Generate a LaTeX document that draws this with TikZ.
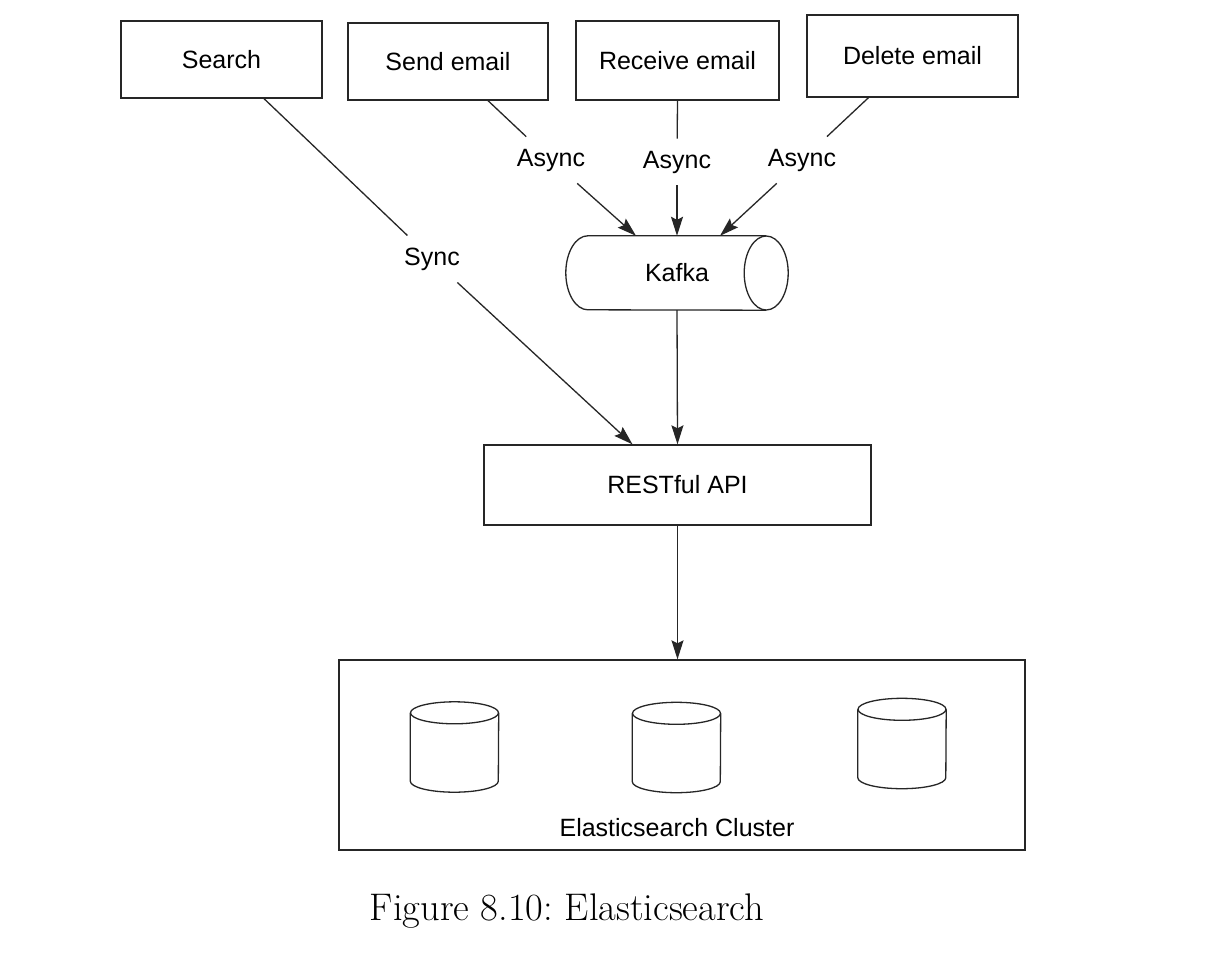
\documentclass[tikz,border=0pt]{standalone}
\usepackage{fontspec}
\newfontfamily\labsans{Liberation Sans}
\usetikzlibrary{arrows.meta,calc}
\newcommand\dbcyl[1]{%
  \draw[line] ($(#1.north)+(0,11)$) ellipse [x radius=44pt, y radius=11pt];
  \draw[line] ($(#1.north west)+(0,11)$) -- ($(#1.south west)+(0,-11)$)
     arc[start angle=180, end angle=360, x radius=44pt, y radius=11pt]
     -- ($(#1.north east)+(0,11)$);
}
\begin{document}
\frenchspacing
\begin{tikzpicture}[x=1pt,y=-1pt,
  line/.style={line width=1.3pt, draw=black!85},
  arr/.style={line, -{Stealth[length=19pt,width=12pt,inset=3pt]}},
  box/.style={line, rectangle, inner sep=0pt, font=\labsans\fontsize{25}{30}\selectfont},
  lab/.style={inner sep=12pt, font=\labsans\fontsize{25}{30}\selectfont},
  txt/.style={inner sep=0pt, font=\labsans\fontsize{25}{30}\selectfont}]
\useasboundingbox (0,0) rectangle (1221,977);
\fill[white] (0,0) rectangle (1221,977);

% top boxes
\node[box, draw, minimum width=201pt, minimum height=77pt] (search) at (221.5,59.5) {Search};
\node[box, draw, minimum width=200pt, minimum height=77pt] (send) at (448,61.5) {Send email};
\node[box, draw, minimum width=203pt, minimum height=79pt] (recv) at (677.5,60.5) {Receive email};
\node[box, draw, minimum width=211pt, minimum height=82pt] (del) at (912.5,56) {Delete email};

% labels
\node[lab] (sync) at (432,259) {Sync};
\node[lab] (as1) at (551,160) {Async};
\node[lab] (as2) at (677,162) {Async};
\node[lab] (as3) at (802,160) {Async};

% kafka
\node[txt, minimum width=222pt, minimum height=74pt] (kafka) at (677,273) {Kafka};
\draw[line] ($(kafka.north east)+(-22,0)$) -- ($(kafka.north west)+(22,0)$)
   arc[start angle=90, end angle=270, x radius=22pt, y radius=37pt]
   -- ($(kafka.south east)+(-22,0)$);
\draw[line] ($(kafka.east)+(-22,0)$) ellipse [x radius=22pt, y radius=37pt];

% REST
\node[box, draw, minimum width=387pt, minimum height=80pt] (rest) at (677.5,485) {RESTful API};

% cluster
\node[box, draw, minimum width=686pt, minimum height=190pt] (cluster) at (682,755) {};
\node[txt] (cltext) at (677,828) {Elasticsearch Cluster};
\node[minimum width=88pt, minimum height=90pt, inner sep=0pt] (db1) at (454.5,747) {};
\node[minimum width=88pt, minimum height=90pt, inner sep=0pt] (db2) at (676.5,747.5) {};
\node[minimum width=88pt, minimum height=90pt, inner sep=0pt] (db3) at (902,743.5) {};
\dbcyl{db1}
\dbcyl{db2}
\dbcyl{db3}

% caption
\node[inner sep=0pt, font=\fontsize{38.5}{44}\selectfont] (cap) at (567,911) {Figure 8.10: Elasticsearch};

% connectors
\coordinate (sstart) at ($(search.south)+(42.5,0)$);
\coordinate (restin) at ($(rest.north)+(-45,0)$);
\draw[line] (sstart) -- (sync);
\draw[arr] (sync) -- (restin);

\coordinate (s1) at ($(send.south)+(40,0)$);
\coordinate (k1) at ($(kafka.north)+(-41,0)$);
\draw[line] (s1) -- (as1);
\draw[arr] (as1) -- (k1);

\draw[line] (recv.south) -- (as2);
\draw[arr] (as2) -- (kafka.north);

\coordinate (s3) at ($(del.south)+(-44,0)$);
\coordinate (k3) at ($(kafka.north)+(43,0)$);
\draw[line] (s3) -- (as3);
\draw[arr] (as3) -- (k3);

\draw[arr] (kafka.south) -- (rest.north);
\draw[arr] (rest.south) -- (rest.south |- cluster.north);
\end{tikzpicture}
\end{document}
